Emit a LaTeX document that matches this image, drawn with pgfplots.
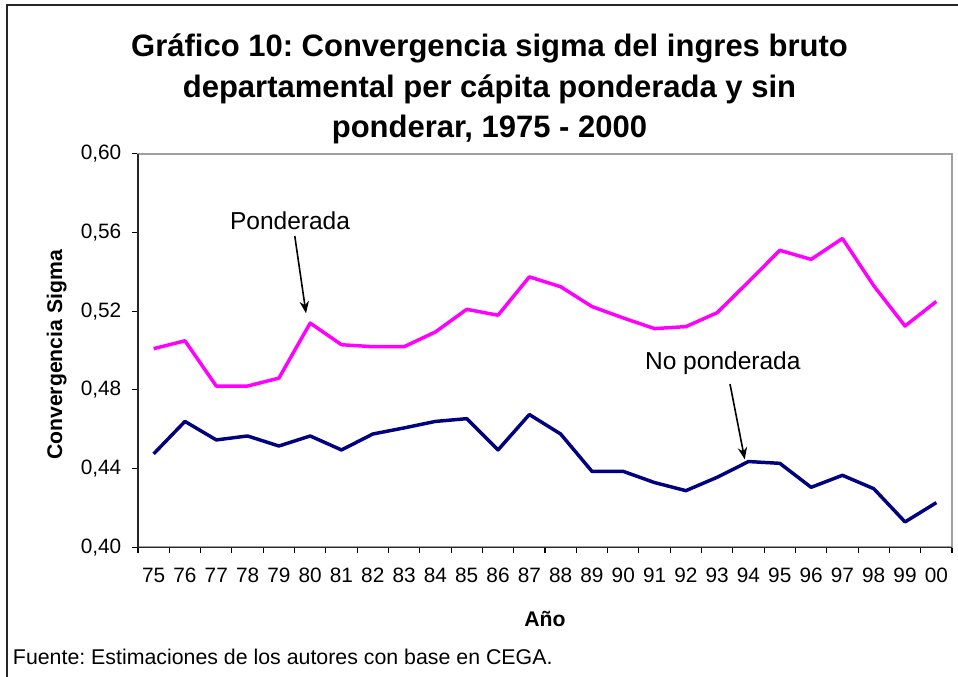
\documentclass[border=0pt]{standalone}
\usepackage{pgfplots}
\pgfplotsset{compat=1.18}
\usepackage{fontspec}
\setmainfont{Liberation Sans}
\usetikzlibrary{arrows.meta}
\definecolor{pond}{HTML}{FF00FF}
\definecolor{nopond}{HTML}{000080}
\pgfplotstableread{
x pond nopond
0 0.501 0.4475
1 0.505 0.464
2 0.482 0.4546
3 0.482 0.4566
4 0.486 0.4515
5 0.514 0.4566
6 0.503 0.4495
7 0.502 0.4576
8 0.502 0.4607
9 0.5095 0.464
10 0.521 0.4654
11 0.518 0.4495
12 0.5375 0.4675
13 0.5325 0.4576
14 0.5224 0.4386
15 0.5166 0.4386
16 0.5112 0.4329
17 0.5122 0.4288
18 0.5193 0.4356
19 0.535 0.4436
20 0.551 0.4427
21 0.5464 0.4305
22 0.557 0.4366
23 0.533 0.4298
24 0.5125 0.4129
25 0.525 0.4227
}\datatable
\begin{document}
\frenchspacing
\begin{tikzpicture}[x=0.75pt,y=0.75pt]
\useasboundingbox (0,0) rectangle (958,677);
\draw[line width=1.6pt, black!85] (7,0) -- (7,672) -- (958,672);
% title
\node[anchor=base, font=\bfseries\fontsize{23.25}{28}\selectfont] at (489.5,620.3) {Gráfico 10: Convergencia sigma del ingres bruto};
\node[anchor=base, font=\bfseries\fontsize{23.25}{28}\selectfont] at (489.5,579.7) {departamental per cápita ponderada y sin};
\node[anchor=base, font=\bfseries\fontsize{23.25}{28}\selectfont] at (489.5,539) {ponderar, 1975 - 2000};
\begin{axis}[
  at={(103.5pt,97.275pt)}, anchor=south west,
  width=610.5pt, height=295pt, scale only axis,
  xmin=-0.5, xmax=25.5, ymin=0.40, ymax=0.60,
  ytick={0.40,0.44,0.48,0.52,0.56,0.60},
  yticklabel style={xshift=-4.5pt, /pgf/number format/.cd, fixed, fixed zerofill, precision=2, use comma},
  /pgf/number format/assume math mode=true,
  xtick={-0.5,0.5,...,25.5}, xticklabels={},
  extra x ticks={0,1,...,25},
  extra x tick labels={75,76,77,78,79,80,81,82,83,84,85,86,87,88,89,90,91,92,93,94,95,96,97,98,99,00},
  extra x tick style={major tick length=0pt, xticklabel style={yshift=-12pt}},
  xtick pos=bottom, ytick pos=left,
  tick align=outside, major tick length=4.5pt,
  tick style={black, line width=0.8pt},
  ticklabel style={font=\fontsize{15.6}{17}\selectfont},
  axis line style={draw=gray!75, line width=1.5pt},
  clip=false,
]
\addplot[pond, line width=2.6pt, line join=round] table[x=x,y=pond] {\datatable};
\addplot[nopond, line width=2.6pt, line join=round] table[x=x,y=nopond] {\datatable};
\draw[black!85, line width=1.1pt] (rel axis cs:0,1) -- (rel axis cs:0,0) -- (rel axis cs:1,0);
\node[anchor=base, font=\fontsize{18.4}{20}\selectfont] at (axis cs:4.356,0.5614) {Ponderada};
\node[anchor=base, font=\fontsize{18.4}{20}\selectfont] at (axis cs:18.18,0.4902) {No ponderada};
\draw[-{Stealth[length=9pt,width=7pt]}, line width=1.2pt] (axis cs:4.507,0.5583) -- (axis cs:4.867,0.519);
\draw[-{Stealth[length=9pt,width=7pt]}, line width=1.2pt] (axis cs:18.41,0.483) -- (axis cs:18.88,0.4447);
\end{axis}
\node[anchor=base, rotate=90, font=\bfseries\fontsize{15.9}{18}\selectfont] at (62,322) {Convergencia Sigma};
\node[anchor=base, font=\bfseries\fontsize{15.9}{18}\selectfont] at (545,50) {Año};
\node[anchor=base west, inner sep=0pt, font=\fontsize{16}{18}\selectfont] at (12.7,12.7) {Fuente: Estimaciones de los autores con base en CEGA.};
\end{tikzpicture}
\end{document}
